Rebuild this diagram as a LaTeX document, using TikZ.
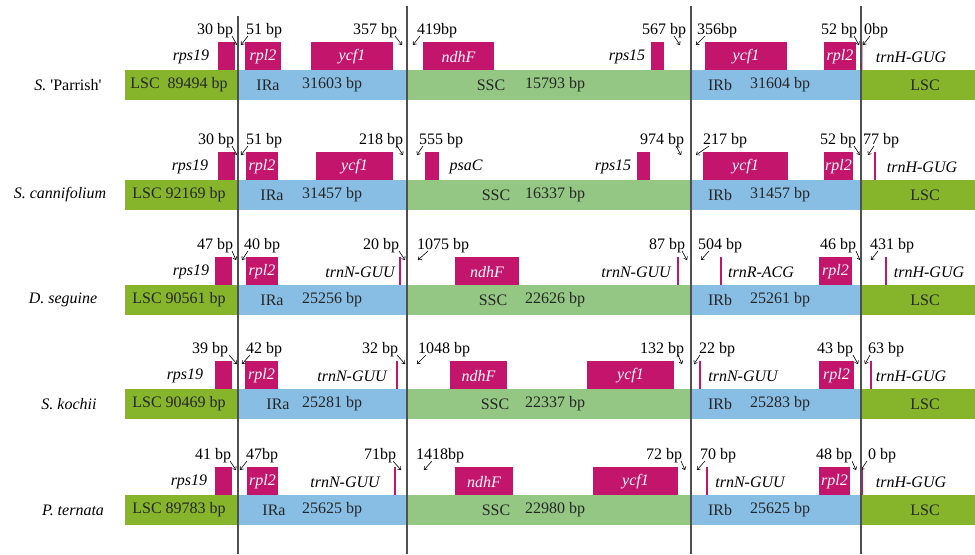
\documentclass[tikz,border=0pt]{standalone}
\usepackage{fontspec}
\setmainfont{Liberation Serif}
\usetikzlibrary{arrows.meta}
\definecolor{lscg}{HTML}{86B52C}
\definecolor{irbl}{HTML}{88BEE4}
\definecolor{sscg}{HTML}{93C783}
\definecolor{genec}{HTML}{C4156C}
\definecolor{paleg}{HTML}{E9A3C4}
\definecolor{vlc}{HTML}{505050}
\tikzset{
  every node/.style={font=\rmfamily\fontsize{12}{14}\selectfont, inner sep=0pt},
  gwhite/.style={text=white, font=\rmfamily\fontsize{12}{14}\selectfont\itshape},
  gtxt/.style={text=black, font=\rmfamily\fontsize{12}{14}\selectfont\itshape},
  bptxt/.style={text=black},
  bartxt/.style={text=black!85},
  sp/.style={text=black},
  ptr/.style={line width=0.45pt, -{To[length=2.4pt,width=3.4pt]}},
  gline/.style={draw=genec, line width=1.4pt},
  vline/.style={draw=vlc, line width=0.8pt},
}
% gene box: name x1 x2 Y label
\newcommand\GB[5]{\fill[genec] (#2,{#4-28}) rectangle (#3,#4);
  \node[gwhite] (#1) at ({(#2+#3)/2},{#4-13}) {#5};}
% thin gene: name x Y
\newcommand\GL[3]{\draw[gline] (#2,{#3-28}) coordinate (#1t) -- (#2,#3) coordinate (#1b);}
% gene text: name x Y text
\newcommand\GT[4]{\node[gtxt] (#1) at (#2,{#3-13}) {#4};}
% bp label: name textx Y text tailx headx
\newcommand\BP[6]{\node[bptxt] (#1) at (#2,{#3-39}) {#4};
  \coordinate (#1s) at (#5,{#3-34});
  \coordinate (#1e) at (#6,{#3-25});
  \draw[ptr] (#1s) -- (#1e);}
% bars: prefix Y
\newcommand\BARS[2]{%
  \fill[lscg] (125,#2) rectangle (238,{#2+30});
  \fill[irbl] (238,#2) rectangle (407,{#2+30});
  \fill[sscg] (407,#2) rectangle (691,{#2+30});
  \fill[irbl] (691,#2) rectangle (861,{#2+30});
  \fill[lscg] (861,#2) rectangle (975,{#2+30});}
% bar texts: prefix Y lsctext irax irasize sscx sscsize irbx irbsize
\newcommand\BT[9]{%
  \node[bartxt] (#1lsc) at (179,{#2+15}) {#3};
  \node[bartxt] (#1ira) at (#4,{#2+15}) {IRa};
  \node[bartxt] (#1iras) at (332,{#2+15}) {#5};
  \node[bartxt] (#1ssc) at (#6,{#2+15}) {SSC};
  \node[bartxt] (#1sscs) at (555,{#2+15}) {#7};
  \node[bartxt] (#1irb) at (720,{#2+15}) {IRb};
  \node[bartxt] (#1irbs) at (780,{#2+15}) {#9};
  \node[bartxt] (#1lscr) at (925,{#2+15}) {LSC};}
\begin{document}
\begin{tikzpicture}[x=0.75pt, y=-0.75pt]
\useasboundingbox (0,0) rectangle (975,554);
\fill[white] (0,0) rectangle (975,554);

% ---------- Row 1 ----------
\BARS{a}{70}
\BT{a}{70}{LSC\ \ 89494 bp}{268}{31603 bp}{491}{15793 bp}{x}{31604 bp}
\node[sp] (spa) at (68,85) {\textit{S.} \textquotesingle Parrish\textquotesingle};
\fill[genec] (218,42) rectangle (235,70); \GT{ars19}{191}{70}{rps19}
\GB{arpl2}{245}{281}{70}{rpl2}
\GB{aycf1}{311}{393}{70}{ycf1}
\GB{andhF}{423}{494}{70}{ndhF}
\fill[genec] (651,42) rectangle (664,70); \GT{arps15}{627}{70}{rps15}
\GB{aycf1b}{705}{787}{70}{ycf1}
\GB{arpl2b}{824}{856}{70}{rpl2}
\draw[draw=paleg, line width=1.2pt] (862.5,42) coordinate (atrnHt) -- (862.5,70) coordinate (atrnHb);
\GT{atrnH}{911}{70}{trnH-GUG}
\BP{ab1}{215}{70}{30 bp}{232}{237}
\BP{ab2}{264}{70}{51 bp}{248}{241}
\BP{ab3}{375}{70}{357 bp}{395}{402}
\BP{ab4}{437}{70}{419bp}{420}{413}
\BP{ab5}{664}{70}{567 bp}{674}{680}
\BP{ab6}{717}{70}{356bp}{705}{696}
\BP{ab7}{839}{70}{52 bp}{854}{859}
\BP{ab8}{876}{70}{0bp}{870}{863}

% ---------- Row 2 ----------
\BARS{b}{180}
\BT{b}{180}{LSC 92169 bp}{272}{31457 bp}{496}{16337 bp}{x}{31457 bp}
\node[sp] (spb) at (60,195) {\textit{S. cannifolium}};
\fill[genec] (218,152) rectangle (235,180); \GT{brps19}{190}{180}{rps19}
\GB{brpl2}{246}{278}{180}{rpl2}
\GB{bycf1}{316}{393}{180}{ycf1}
\fill[genec] (425,152) rectangle (439,180); \GT{bpsaC}{466}{180}{psaC}
\fill[genec] (637,152) rectangle (650,180); \GT{brps15}{613}{180}{rps15}
\GB{bycf1b}{703}{788}{180}{ycf1}
\GB{brpl2b}{824}{853}{180}{rpl2}
\GL{btrnHl}{875}{180}
\GT{btrnH}{922}{180}{trnH-GUG}
\BP{bb1}{216}{180}{30 bp}{232}{237}
\BP{bb2}{264}{180}{51 bp}{248}{241}
\BP{bb3}{381}{180}{218 bp}{397}{403}
\BP{bb4}{441}{180}{555 bp}{423}{417}
\BP{bb5}{662}{180}{974 bp}{676}{681}
\BP{bb6}{725}{180}{217 bp}{709}{696}
\BP{bb7}{838}{180}{52 bp}{854}{860}
\BP{bb8}{881}{180}{77 bp}{874}{868}

% ---------- Row 3 ----------
\BARS{c}{285}
\BT{c}{285}{LSC 90561 bp}{272}{25256 bp}{493}{22626 bp}{x}{25261 bp}
\node[sp] (spc) at (63,300) {\textit{D. seguine}};
\fill[genec] (215,257) rectangle (232,285); \GT{crps19}{191}{285}{rps19}
\GB{crpl2}{246}{278}{285}{rpl2}
\GL{ctrnNl}{400}{285} \GT{ctrnN}{360}{285}{trnN-GUU}
\GB{cndhF}{455}{519}{285}{ndhF}
\GL{ctrnNbl}{678}{285} \GT{ctrnNb}{636}{285}{trnN-GUU}
\GL{ctrnRl}{721}{285} \GT{ctrnR}{761}{285}{trnR-ACG}
\GB{crpl2b}{819}{852}{285}{rpl2}
\GL{ctrnHl}{886}{285} \GT{ctrnH}{929}{285}{trnH-GUG}
\BP{cb1}{215}{285}{47 bp}{232}{236}
\BP{cb2}{262}{285}{40 bp}{248}{242}
\BP{cb3}{381}{285}{20 bp}{399}{405}
\BP{cb4}{443}{285}{1075 bp}{428}{418}
\BP{cb5}{667}{285}{87 bp}{682}{687}
\BP{cb6}{720}{285}{504 bp}{709}{701}
\BP{cb7}{838}{285}{46 bp}{856}{860}
\BP{cb8}{892}{285}{431 bp}{878}{871}

% ---------- Row 4 ----------
\BARS{d}{389}
\BT{d}{389}{LSC 90469 bp}{278}{25281 bp}{495}{22337 bp}{x}{25283 bp}
\node[sp] (spd) at (69,404) {\textit{S. kochii}};
\fill[genec] (215,361) rectangle (232,389); \GT{drps19}{185}{389}{rps19}
\GB{drpl2}{245}{278}{389}{rpl2}
\GL{dtrnNl}{397}{389} \GT{dtrnN}{352}{389}{trnN-GUU}
\GB{dndhF}{450}{507}{389}{ndhF}
\GB{dycf1}{587}{674}{389}{ycf1}
\GL{dtrnNbl}{700}{389} \GT{dtrnNb}{743}{389}{trnN-GUU}
\GB{drpl2b}{819}{854}{389}{rpl2}
\GL{dtrnHl}{871}{389} \GT{dtrnH}{911}{389}{trnH-GUG}
\BP{db1}{210}{389}{39 bp}{229}{237}
\BP{db2}{264}{389}{42 bp}{250}{242}
\BP{db3}{380}{389}{32 bp}{397}{405}
\BP{db4}{444}{389}{1048 bp}{426}{417}
\BP{db5}{662}{389}{132 bp}{678}{682}
\BP{db6}{717}{389}{22 bp}{700}{694}
\BP{db7}{835}{389}{43 bp}{853}{858}
\BP{db8}{886}{389}{63 bp}{870}{865}

% ---------- Row 5 ----------
\BARS{e}{495}
\BT{e}{495}{LSC 89783 bp}{274}{25625 bp}{496}{22980 bp}{x}{25625 bp}
\node[sp] (spe) at (73,510) {\textit{P. ternata}};
\fill[genec] (215,467) rectangle (232,495); \GT{erps19}{189}{495}{rps19}
\GB{erpl2}{247}{278}{495}{rpl2}
\GL{etrnNl}{395}{495} \GT{etrnN}{345}{495}{trnN-GUU}
\GB{endhF}{455}{513}{495}{ndhF}
\GB{eycf1}{593}{678}{495}{ycf1}
\GL{etrnNbl}{707}{495} \GT{etrnNb}{750}{495}{trnN-GUU}
\GB{erpl2b}{819}{850}{495}{rpl2}
\GL{etrnHl}{862}{495} \GT{etrnH}{911}{495}{trnH-GUG}
\BP{eb1}{213}{495}{41 bp}{230}{236}
\BP{eb2}{262}{495}{47bp}{247}{240}
\BP{eb3}{380}{495}{71bp}{393}{401}
\BP{eb4}{440}{495}{1418bp}{432}{424}
\BP{eb5}{664}{495}{72 bp}{681}{685}
\BP{eb6}{718}{495}{70 bp}{705}{697}
\BP{eb7}{834}{495}{48 bp}{852}{856}
\BP{eb8}{882}{495}{0 bp}{867}{861}

% ---------- boundary lines ----------
\draw[vline] (238,16) coordinate (v1t) -- (238,554) coordinate (v1b);
\draw[vline] (407,6) coordinate (v2t) -- (407,554) coordinate (v2b);
\draw[vline] (691,6) coordinate (v3t) -- (691,554) coordinate (v3b);
\draw[vline] (861,6) coordinate (v4t) -- (861,554) coordinate (v4b);
\end{tikzpicture}
\end{document}
